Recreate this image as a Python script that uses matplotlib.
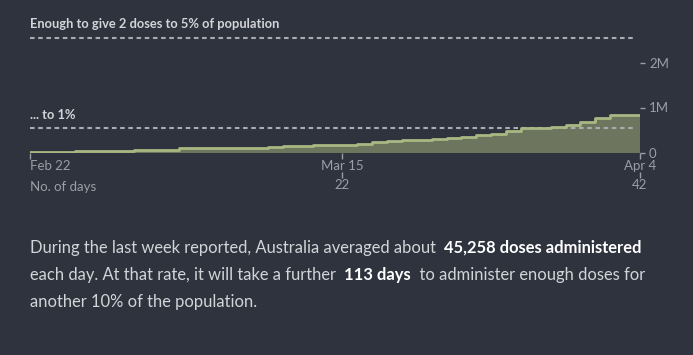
import matplotlib
matplotlib.use("Agg")
import matplotlib.pyplot as plt

BG = "#2e333e"
FILL = "#6e755f"
LINE = "#a9b882"
DASH = "#a8abb0"
TICK = "#9a9ea6"
TEXT = "#d2d4d8"

# day number since Feb 22 (day 1) and cumulative doses (millions)
days = list(range(1, 43))
doses = [0.01, 0.01, 0.01, 0.035, 0.035, 0.035, 0.035, 0.065, 0.065, 0.065,
         0.09, 0.09, 0.09, 0.105, 0.105, 0.105, 0.13, 0.155, 0.155, 0.17,
         0.17, 0.17, 0.20, 0.225, 0.25, 0.275, 0.275, 0.30, 0.33, 0.35,
         0.38, 0.42, 0.47, 0.535, 0.535, 0.56, 0.62, 0.68, 0.77, 0.835,
         0.835, 0.835]

date_ticks = [1, 22, 42]
date_labels = ["Feb 22", "Mar 15", "Apr 4"]
day_ticks = [22, 42]
y_ticks = [0, 1, 2]
y_labels = ["0", "1M", "2M"]

target_5pc = 2.55
target_1pc = 0.535

para_lines = [
    [("During the last week reported, Australia averaged about  ", False),
     ("45,258 doses administered", True)],
    [("each day. At that rate, it will take a further  ", False),
     ("113 days", True),
     ("  to administer enough doses for", False)],
    [("another 10% of the population.", False)],
]

plt.rcParams["font.family"] = ["Lato", "DejaVu Sans"]
plt.rcParams["lines.scale_dashes"] = False

W, H = 693, 355
fig = plt.figure(figsize=(W / 100, H / 100), dpi=100, facecolor=BG)
ax = fig.add_axes([30 / W, (H - 152.5) / H, 610 / W, 117 / H])
ax.set_facecolor(BG)

ax.fill_between(days, doses, step="post", color=FILL, linewidth=0, zorder=1)
ax.step(days, doses, where="post", color=LINE, linewidth=2.0, zorder=3)

for val in (target_5pc, target_1pc):
    ax.axhline(val, xmin=0, xmax=0.992, color=DASH, linewidth=1.5,
               linestyle=(0, (3.3, 2.6)), zorder=2, clip_on=False)

ax.annotate("Enough to give 2 doses to 5% of population",
            xy=(0, target_5pc), xycoords=("axes fraction", "data"),
            xytext=(0, 7.3), textcoords="offset points", va="baseline",
            ha="left", fontsize=9.25, fontweight="bold", color=TEXT)
ax.annotate("... to 1%",
            xy=(0, target_1pc), xycoords=("axes fraction", "data"),
            xytext=(0, 6.8), textcoords="offset points", va="baseline",
            ha="left", fontsize=9.25, fontweight="bold", color=TEXT)

ax.set_xlim(1, 42)
ax.set_ylim(0, 2.6)
for s in ax.spines.values():
    s.set_visible(False)

ax.set_xticks(date_ticks)
ax.set_xticklabels(date_labels)
ax.tick_params(axis="x", colors=TICK, labelcolor=TICK, length=4, width=1,
               pad=1.5, labelsize=9.5)
ax.get_xticklabels()[0].set_ha("left")

ax.yaxis.tick_right()
ax.set_yticks(y_ticks)
ax.set_yticklabels(y_labels)
ax.tick_params(axis="y", colors=TICK, labelcolor=TICK, length=3.5, width=1,
               pad=3, labelsize=9.5)

sec = ax.secondary_xaxis(-0.164)
sec.set_xticks(day_ticks)
sec.set_xticklabels([str(d) for d in day_ticks])
sec.spines["bottom"].set_visible(False)
sec.tick_params(colors=TICK, labelcolor=TICK, length=4, width=1, pad=1.5,
                labelsize=9.5)
fig.text(30 / W, 1 - 191 / H, "No. of days", color=TICK, fontsize=9.5,
         ha="left", va="baseline")

# paragraph with mixed weights
renderer = fig.canvas.get_renderer()
baselines = [252.5, 280.0, 307.5]
for line, yb in zip(para_lines, baselines):
    xpx = 30.0
    for txt, bold in line:
        t = fig.text(xpx / W, 1 - yb / H, txt, fontsize=11.9,
                     fontweight="bold" if bold else "normal",
                     color="#ffffff" if bold else TEXT,
                     ha="left", va="baseline")
        bb = t.get_window_extent(renderer)
        xpx += bb.width

fig.savefig("out.png", dpi=100, facecolor=BG)
